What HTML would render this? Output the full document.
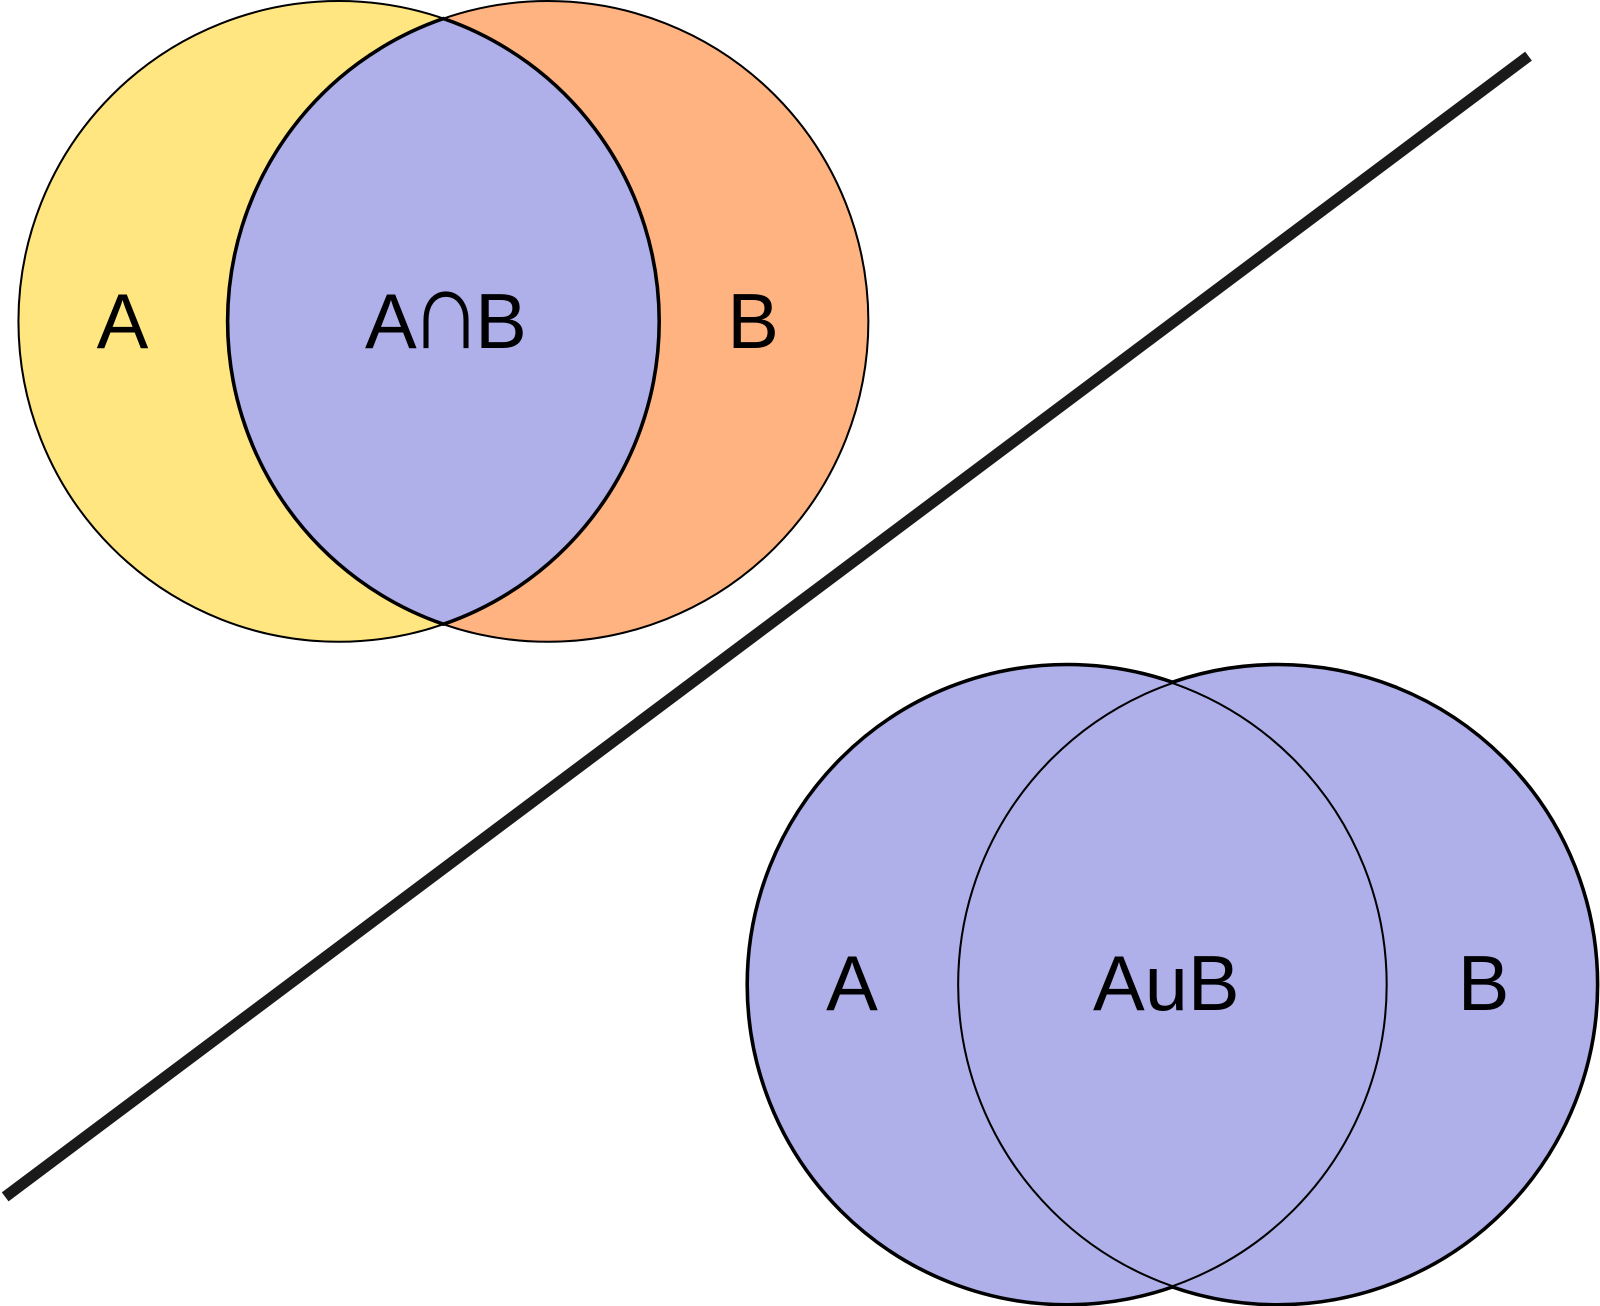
<!DOCTYPE html>
<html><head><meta charset="utf-8"><style>
html,body{margin:0;padding:0;background:#fff;}
svg{display:block;}
text{font-family:"Liberation Sans",sans-serif;font-size:76px;fill:#000;text-anchor:middle;}
</style></head><body>
<svg width="1600" height="1306" viewBox="0 0 1568 1280" xmlns="http://www.w3.org/2000/svg">
<rect width="1568" height="1280" fill="#fff"/>
<circle cx="332" cy="315" r="314" fill="#FFE680" stroke="#000" stroke-width="2"/>
<circle cx="537" cy="315" r="314" fill="#FFB380" stroke="#000" stroke-width="2"/>
<path d="M434.5 18.2 A314 314 0 0 1 434.5 611.8 A314 314 0 0 1 434.5 18.2 Z" fill="#AFAFE9" stroke="#000" stroke-width="3.5"/>
<text x="120" y="341">A</text>
<text x="383" y="341">A</text>
<text transform="translate(437,341) scale(1.3,1.45)" x="0" y="0">∩</text>
<text x="491" y="341">B</text>
<text x="738" y="341">B</text>
<line x1="5" y1="1173" x2="1498" y2="55" stroke="#1a1a1a" stroke-width="11"/>
<circle cx="1046" cy="965" r="313" fill="none" stroke="#000" stroke-width="5"/>
<circle cx="1252" cy="965" r="313" fill="none" stroke="#000" stroke-width="5"/>
<circle cx="1046" cy="965" r="313" fill="#AFAFE9"/>
<circle cx="1252" cy="965" r="313" fill="#AFAFE9"/>
<circle cx="1046" cy="965" r="313" fill="none" stroke="#000" stroke-width="2"/>
<circle cx="1252" cy="965" r="313" fill="none" stroke="#000" stroke-width="2"/>
<text x="835" y="990">A</text>
<text x="1143" y="990">AuB</text>
<text x="1454" y="990">B</text>
</svg>
</body></html>
